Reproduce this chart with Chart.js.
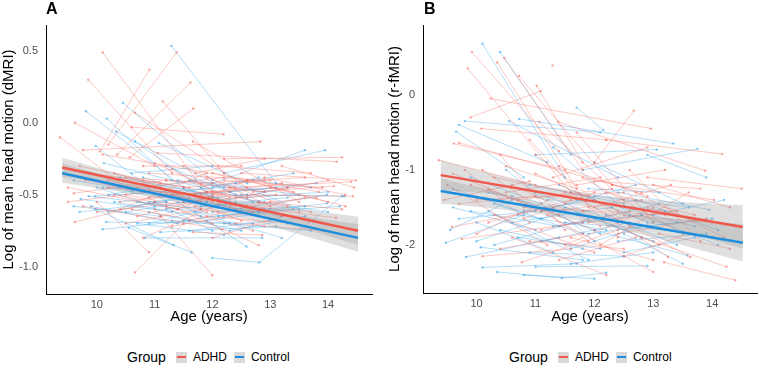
<!DOCTYPE html>
<html>
<head>
<meta charset="utf-8">
<script src="https://cdn.jsdelivr.net/npm/chart.js@4.4.1/dist/chart.umd.min.js"></script>
<style>
	body { margin: 0; background: #fff; font-family: "Liberation Sans", Arial, sans-serif; }
	#wrap { position: relative; width: 761px; height: 367px; overflow: hidden; }
	canvas { position: absolute; top: 0; }
	.letter { position: absolute; top: 1px; font-size: 16px; font-weight: bold; line-height: 16px; }
	.legend { position: absolute; top: 349px; height: 16px; display: flex; align-items: center; white-space: nowrap; color: #000; }
	.legend .title { font-size: 14px; margin-right: 10px; }
	.legend .key { width: 11px; height: 11px; background: #d9d9d9; position: relative; margin-right: 6px; }
	.legend .key span { position: absolute; left: 1px; right: 1px; top: 4.5px; height: 2px; }
	.legend .lab { font-size: 12px; margin-right: 7px; }
</style>
</head>
<body>
<div id="wrap">
	<canvas id="chartA" width="380" height="340" style="left:0"></canvas>
	<canvas id="chartB" width="381" height="340" style="left:380px"></canvas>
	<div class="letter" style="left:46px">A</div>
	<div class="letter" style="left:424px">B</div>
	<div class="legend" style="left:127px">
		<span class="title">Group</span>
		<span class="key"><span style="background:#f0584c"></span></span><span class="lab">ADHD</span>
		<span class="key"><span style="background:#1e8ddc"></span></span><span class="lab">Control</span>
	</div>
	<div class="legend" style="left:509px">
		<span class="title">Group</span>
		<span class="key"><span style="background:#f0584c"></span></span><span class="lab">ADHD</span>
		<span class="key"><span style="background:#1e8ddc"></span></span><span class="lab">Control</span>
	</div>
</div>
<script>
// each subject: age, value, age, value [, age, value]
const dmriAdhd = [
	[9.85,0.30, 11.30,-0.35], [10.10,0.49, 12.00,-0.55], [10.20,-0.15, 11.38,0.49], [10.05,-0.20, 10.91,0.37],
	[10.35,-0.22, 11.62,0.28], [9.62,0.00, 11.00,-0.30], [9.36,-0.10, 10.50,-0.45], [11.14,0.15, 12.20,-0.35],
	[10.57,-0.24, 11.67,0.10], [10.60,-0.03, 12.19,-0.08], [9.76,-0.19, 12.83,-0.13], [12.20,-0.25, 14.24,-0.24],
	[10.66,0.07, 12.60,-0.45], [10.10,-0.22, 13.84,-0.48], [11.05,-0.21, 14.15,-0.27], [11.66,-0.13, 13.50,-0.55],
	[9.60,-0.49, 11.20,-0.40], [9.62,-0.69, 11.00,-0.55], [9.76,-0.58, 12.17,-0.74], [10.00,-0.55, 10.90,-0.90],
	[10.66,-1.04, 11.50,-0.70], [11.00,-0.60, 12.00,-1.06], [11.66,-0.76, 12.86,-0.78], [12.86,-0.60, 14.14,-0.66],
	[12.00,-0.50, 14.43,-0.51], [12.50,-0.35, 14.48,-0.40], [12.30,-0.45, 14.40,-0.41], [12.80,-0.55, 14.24,-0.60],
	[10.30,-0.35, 12.40,-0.60], [10.80,-0.40, 12.60,-0.52], [11.20,-0.50, 13.30,-0.45], [10.50,-0.50, 12.10,-0.62],
	[11.50,-0.30, 13.00,-0.58], [11.80,-0.42, 13.60,-0.38], [10.20,-0.40, 11.80,-0.55], [9.50,-0.45, 11.40,-0.60],
	[11.90,-0.65, 13.40,-0.70], [11.30,-0.72, 12.70,-0.62], [10.70,-0.65, 12.30,-0.48], [12.10,-0.30, 13.70,-0.35],
	[10.90,-0.35, 12.90,-0.40], [11.60,-0.55, 13.10,-0.50], [12.40,-0.70, 13.90,-0.75], [10.40,-0.60, 11.90,-0.35],
	[11.10,-0.45, 12.50,-0.68], [9.90,-0.35, 11.60,-0.45], [12.60,-0.40, 14.00,-0.55], [11.40,-0.60, 12.80,-0.85],
	[10.80,-0.80, 12.20,-0.55], [12.00,-0.80, 13.20,-0.65], [11.70,-0.35, 12.90,-0.25], [13.00,-0.45, 14.30,-0.58],
	[10.20,-0.45, 11.70,-0.50], [10.50,-0.38, 12.00,-0.42], [10.90,-0.52, 12.40,-0.46], [11.20,-0.40, 12.90,-0.48],
	[11.40,-0.48, 12.60,-0.58], [11.80,-0.50, 13.20,-0.42], [10.70,-0.45, 12.20,-0.38], [11.00,-0.28, 12.30,-0.52],
	[12.10,-0.55, 13.50,-0.62], [12.20,-0.40, 13.90,-0.45], [9.80,-0.40, 11.30,-0.52], [10.40,-0.55, 12.00,-0.48],
	[11.50,-0.45, 13.00,-0.40], [11.90,-0.38, 13.30,-0.58], [10.60,-0.60, 12.00,-0.70], [12.30,-0.58, 13.80,-0.52],
	[11.10,-0.65, 12.60,-0.40], [10.30,-0.50, 11.90,-0.62], [12.70,-0.48, 14.10,-0.44], [11.60,-0.68, 13.00,-0.55],
	[10.00,-0.62, 11.50,-0.55], [11.30,-0.32, 12.80,-0.65], [12.50,-0.62, 13.60,-0.52], [10.80,-0.30, 12.50,-0.30],
	[11.70,-0.58, 12.90,-0.72], [9.70,-0.30, 11.10,-0.42], [12.00,-0.35, 13.40,-0.48], [10.50,-0.70, 11.80,-0.60],
	[11.20,-0.58, 12.70,-0.75], [12.90,-0.38, 14.30,-0.50], [9.50,-0.55, 10.90,-0.48], [11.90,-0.48, 13.70,-0.62],
	[10.90,-0.47, 12.10,-0.52], [12.40,-0.52, 14.00,-0.40], [13.20,-0.30, 14.45,-0.45]
];
const dmriControl = [
	[11.29,0.535, 13.10,-0.42], [9.81,0.08, 11.50,-0.45], [10.45,0.14, 12.00,-0.40], [10.17,0.03, 11.30,-0.40],
	[12.20,-0.35, 13.95,-0.19], [11.80,-0.45, 13.60,-0.19], [10.33,-0.06, 12.40,-0.50], [10.66,-0.13, 11.90,-0.48],
	[11.07,-0.14, 12.60,-0.42], [9.98,-0.16, 11.20,-0.55], [10.12,-0.28, 12.80,-0.55], [12.00,-0.94, 12.81,-0.97, 14.24,-0.51],
	[11.40,-0.55, 12.59,-0.86], [10.10,-0.74, 11.60,-0.68], [10.16,-0.69, 12.30,-0.70], [10.55,-0.73, 11.64,-0.90],
	[10.83,-0.80, 12.86,-0.80], [11.10,-0.76, 13.10,-0.72], [9.72,-0.53, 11.30,-0.62], [9.86,-0.51, 11.80,-0.60],
	[9.97,-0.51, 12.20,-0.45], [9.97,-0.60, 11.33,-0.85], [12.50,-0.50, 14.28,-0.51], [12.40,-0.60, 13.98,-0.50],
	[12.10,-0.65, 13.98,-0.56], [11.00,-0.45, 12.90,-0.60], [10.70,-0.55, 12.20,-0.65], [11.60,-0.40, 13.50,-0.50],
	[10.40,-0.45, 11.90,-0.55], [11.20,-0.30, 12.70,-0.55], [12.70,-0.40, 13.70,-0.45], [10.90,-0.62, 12.50,-0.75],
	[11.50,-0.68, 13.00,-0.60], [12.30,-0.75, 13.60,-0.65], [10.20,-0.50, 11.70,-0.40], [11.90,-0.55, 13.30,-0.70],
	[10.60,-0.35, 12.00,-0.30], [12.80,-0.55, 14.00,-0.62], [11.30,-0.50, 12.80,-0.38], [9.60,-0.40, 10.80,-0.48],
	[12.00,-0.45, 13.40,-0.35], [11.70,-0.62, 13.20,-0.80],
	[10.30,-0.55, 11.80,-0.65], [10.60,-0.48, 12.10,-0.58], [10.90,-0.55, 12.60,-0.50], [11.20,-0.60, 12.90,-0.55],
	[11.50,-0.45, 12.80,-0.62], [11.80,-0.58, 13.30,-0.52], [10.10,-0.45, 11.60,-0.52], [10.80,-0.38, 12.30,-0.55],
	[12.00,-0.62, 13.60,-0.58], [12.30,-0.48, 13.80,-0.42], [9.90,-0.58, 11.40,-0.70], [10.50,-0.62, 12.00,-0.52],
	[11.40,-0.40, 12.90,-0.48], [11.90,-0.68, 13.40,-0.60], [10.70,-0.70, 12.20,-0.78], [12.60,-0.52, 14.00,-0.48],
	[11.10,-0.50, 12.50,-0.60], [10.20,-0.62, 11.90,-0.48], [12.80,-0.62, 14.20,-0.58], [11.70,-0.50, 13.10,-0.45],
	[9.70,-0.62, 11.20,-0.55], [11.30,-0.68, 12.70,-0.70], [12.40,-0.42, 13.50,-0.60], [10.40,-0.38, 12.00,-0.50],
	[11.60,-0.75, 13.00,-0.68], [10.00,-0.45, 11.00,-0.58], [12.10,-0.55, 13.30,-0.45], [10.90,-0.70, 12.40,-0.55],
	[11.00,-0.55, 12.00,-0.75], [12.20,-0.70, 13.70,-0.75], [9.60,-0.58, 11.10,-0.65], [11.50,-0.55, 13.20,-0.65]
];
const rfmriAdhd = [
	[9.92,0.57, 11.40,-0.75], [9.85,0.35, 11.60,-1.30], [10.47,0.49, 11.80,-1.00], [10.35,0.43, 11.90,-1.50],
	[11.29,0.39], [10.72,0.25, 12.30,-1.20], [11.02,0.12, 11.80,-0.90], [9.90,-0.30, 11.09,0.05],
	[10.24,-0.05, 12.96,-0.45], [12.00,-0.90, 12.67,-0.21], [10.08,-0.45, 12.20,-0.60], [11.06,-0.36, 12.50,-1.40],
	[11.38,-0.36, 13.88,-1.01], [9.36,-0.87, 11.00,-1.20], [9.61,-0.65, 11.50,-1.00], [9.70,-0.64, 12.80,-1.30],
	[12.20,-0.60, 14.17,-0.79], [12.90,-1.10, 14.50,-1.25], [9.58,-1.76, 11.30,-1.50], [9.75,-1.92, 11.80,-1.70],
	[10.77,-2.23, 12.40,-1.80], [11.20,-1.60, 13.00,-2.36], [12.80,-1.90, 14.24,-2.29], [13.18,-2.23, 14.39,-2.47],
	[11.60,-1.30, 13.25,-2.16], [12.00,-1.50, 13.63,-2.16], [12.30,-1.20, 14.03,-1.40], [10.10,-1.00, 11.90,-1.95],
	[10.50,-1.30, 12.10,-1.10], [10.30,-1.60, 12.00,-2.10], [11.00,-0.80, 12.60,-1.75], [10.80,-1.50, 13.20,-1.60],
	[11.50,-2.00, 13.00,-1.50], [9.50,-1.20, 11.20,-2.00], [10.00,-1.40, 12.50,-1.30], [11.80,-1.10, 13.50,-1.85],
	[12.50,-1.60, 14.00,-1.70], [10.60,-1.90, 12.20,-2.40], [11.30,-1.10, 12.90,-0.70], [10.90,-0.60, 12.40,-1.90],
	[9.80,-1.00, 10.90,-1.70], [12.10,-2.00, 13.60,-1.30], [11.70,-0.50, 13.00,-1.70], [10.20,-1.70, 11.60,-1.40],
	[13.00,-1.20, 14.30,-1.50], [11.40,-2.20, 12.70,-1.90], [10.40,-0.80, 11.50,-1.80], [12.60,-1.00, 13.80,-1.95],
	[9.90,-1.20, 11.40,-1.60], [10.30,-1.10, 11.90,-1.35], [10.70,-1.40, 12.30,-1.25], [11.10,-1.80, 12.60,-1.55],
	[11.50,-1.45, 13.10,-2.00], [11.90,-1.70, 13.40,-1.55], [12.20,-1.30, 13.70,-1.60], [10.00,-1.85, 11.50,-1.30],
	[10.60,-1.20, 12.10,-1.75], [11.30,-1.55, 12.80,-1.40], [12.40,-1.85, 13.90,-1.65], [9.70,-1.45, 11.00,-1.35],
	[10.90,-1.95, 12.50,-2.05], [11.70,-1.20, 13.20,-1.00], [12.70,-1.30, 14.20,-1.90], [10.40,-2.05, 11.80,-1.85],
	[11.00,-1.05, 12.40,-1.55], [12.00,-1.15, 13.80,-1.25], [9.60,-1.05, 11.10,-1.55], [10.80,-1.65, 12.00,-1.30],
	[11.60,-1.90, 13.00,-2.20], [12.90,-1.50, 14.40,-1.75], [10.20,-1.25, 12.00,-1.80], [11.40,-0.95, 12.90,-1.35],
	[12.50,-2.15, 13.60,-1.85], [10.10,-2.15, 11.60,-2.05], [11.80,-1.55, 13.30,-1.20], [10.50,-0.95, 11.70,-1.25],
	[13.10,-1.85, 14.30,-2.05], [9.45,-1.40, 10.90,-1.15]
];
const rfmriControl = [
	[10.10,0.68, 11.50,-1.10], [10.40,0.57, 11.60,-0.80], [11.70,-0.17, 12.15,-0.47], [9.80,-0.35, 12.10,-0.50],
	[9.70,-0.40, 11.20,-0.90], [9.65,-0.49, 10.80,-1.10], [10.55,-0.35, 12.40,-1.10], [10.72,-0.32, 13.34,-0.65],
	[11.80,-1.00, 13.75,-0.72], [11.00,-0.80, 13.06,-0.73], [9.48,-1.97, 10.80,-1.60], [9.82,-2.16, 11.40,-1.90],
	[10.35,-2.36, 11.45,-2.44, 12.20,-2.37], [11.00,-2.29, 12.90,-2.28], [10.07,-2.03, 11.80,-2.20], [12.00,-1.80, 13.58,-2.14],
	[12.40,-1.30, 13.95,-1.53], [10.20,-1.30, 11.70,-1.60], [10.60,-1.70, 12.30,-1.50], [11.20,-1.40, 12.80,-1.90],
	[9.60,-1.50, 11.00,-1.80], [10.90,-1.20, 12.50,-1.45], [11.50,-1.70, 13.20,-1.80], [12.20,-1.60, 13.40,-2.00],
	[10.00,-1.70, 11.30,-2.10], [11.60,-2.05, 13.00,-1.70], [10.50,-1.00, 12.00,-1.95], [12.70,-1.40, 14.10,-1.80],
	[11.90,-1.25, 13.10,-1.30], [9.90,-1.10, 11.10,-1.45], [10.70,-1.90, 12.10,-2.05], [12.50,-2.10, 13.70,-1.90],
	[11.30,-0.70, 12.60,-1.60], [13.00,-1.60, 14.20,-1.40], [10.30,-2.00, 11.90,-1.65], [11.10,-1.55, 12.70,-1.20],
	[12.00,-0.90, 13.50,-1.45], [9.55,-1.80, 10.60,-1.40], [10.80,-2.40, 12.00,-2.45], [12.90,-0.80, 13.90,-1.10],
	[9.90,-1.55, 11.40,-1.75], [10.30,-1.45, 11.80,-1.85], [10.70,-1.60, 12.20,-1.80], [11.10,-1.95, 12.60,-1.70],
	[11.50,-1.50, 13.00,-1.95], [11.90,-1.85, 13.40,-1.70], [12.20,-1.45, 13.70,-1.75], [10.00,-1.95, 11.50,-1.55],
	[10.60,-1.35, 12.10,-1.85], [11.30,-1.75, 12.80,-1.60], [12.40,-1.95, 13.90,-1.85], [9.70,-1.65, 11.00,-1.55],
	[10.90,-2.10, 12.50,-2.15], [11.70,-1.40, 13.20,-1.55], [12.80,-1.60, 14.10,-2.00], [10.40,-1.80, 11.80,-2.05],
	[11.00,-1.30, 12.40,-1.70], [12.00,-1.35, 13.60,-1.50], [9.60,-1.25, 11.10,-1.65], [10.80,-1.55, 12.00,-1.40],
	[11.60,-2.25, 13.00,-2.10], [12.90,-1.75, 14.00,-1.65], [10.20,-1.55, 11.90,-2.20], [11.40,-1.20, 12.90,-1.70],
	[12.50,-1.85, 13.50,-2.25], [10.10,-2.30, 11.70,-2.25], [11.80,-1.70, 13.10,-1.45]
];

// fitted lines and confidence bands
const fitXA = [9.4, 14.52];
const fitAdhdA = [-0.31, -0.75];
const fitControlA = [-0.35, -0.80];
const bandXA = [9.4, 10, 11, 12, 13, 14, 14.52];
const bandAdhdHiA = [-0.243, -0.312, -0.418, -0.507, -0.57, -0.626, -0.653];
const bandAdhdLoA = [-0.377, -0.412, -0.478, -0.561, -0.67, -0.786, -0.847];
const bandControlHiA = [-0.283, -0.353, -0.461, -0.552, -0.617, -0.674, -0.703];
const bandControlLoA = [-0.417, -0.453, -0.521, -0.606, -0.717, -0.834, -0.897];

const fitXB = [9.39, 14.52];
const fitAdhdB = [-1.07, -1.76];
const fitControlB = [-1.28, -1.97];
const bandXB = [9.39, 10, 11, 12, 13, 14, 14.52];
const bandAdhdHiB = [-0.87, -1.002, -1.197, -1.331, -1.406, -1.45, -1.47];
const bandAdhdLoB = [-1.27, -1.302, -1.377, -1.511, -1.706, -1.93, -2.05];
const bandControlHiB = [-1.11, -1.232, -1.417, -1.551, -1.636, -1.69, -1.72];
const bandControlLoB = [-1.45, -1.492, -1.577, -1.711, -1.896, -2.11, -2.22];

const ageTicks = [10, 11, 12, 13, 14];
const dmriTicks = [-1.0, -0.5, 0.0, 0.5];
const rfmriTicks = [-2, -1, 0];

const RED = '#f0584c';
const BLUE = '#1e8ddc';
const FONT = '"Liberation Sans", Arial, sans-serif';

function toPoints(subjects)
{
	let pts = [];
	for(const s of subjects)
	{
		for(let i = 0; i < s.length; i += 2)
			pts.push({x: s[i], y: s[i + 1]});
		pts.push({x: s[0], y: null});
	}
	return pts;
}

function zip(xs, ys)
{
	return xs.map((x, i) => ({x: x, y: ys[i]}));
}

function makePanel(id, p)
{
	const thin = (data, color, dot) => ({
		data: data,
		borderColor: color,
		backgroundColor: dot,
		borderWidth: 1,
		pointRadius: 1.2,
		pointBorderWidth: 0,
		spanGaps: false,
		fill: false,
	});
	const band = (data, fill) => ({
		data: data,
		borderWidth: 0,
		pointRadius: 0,
		backgroundColor: 'rgba(150,150,150,0.3)',
		fill: fill,
	});
	const fit = (data, color) => ({
		data: data,
		borderColor: color,
		borderWidth: 2.5,
		pointRadius: 0,
		fill: false,
	});

	const datasets = [
		fit(zip(p.fitX, p.fitAdhd), RED),
		fit(zip(p.fitX, p.fitControl), BLUE),
		band(zip(p.bandX, p.adhdHi), false),
		band(zip(p.bandX, p.adhdLo), '-1'),
		band(zip(p.bandX, p.controlHi), false),
		band(zip(p.bandX, p.controlLo), '-1'),
		thin(toPoints(p.adhd), 'rgba(248,100,90,0.35)', 'rgba(248,100,90,0.55)'),
		thin(toPoints(p.control), 'rgba(40,160,235,0.35)', 'rgba(40,160,235,0.55)'),
	];

	new Chart(document.getElementById(id), {
		type: 'line',
		data: {datasets: datasets},
		options: {
			responsive: false,
			animation: false,
			devicePixelRatio: 1,
			layout: {padding: {top: 25, right: p.padRight, left: 0, bottom: 0}},
			elements: {line: {tension: 0}},
			plugins: {legend: {display: false}, tooltip: {enabled: false}},
			scales: {
				x: {
					type: 'linear',
					min: p.xMin,
					max: p.xMax,
					grid: {display: false, drawTicks: false},
					border: {display: true, color: '#000', width: 1},
					afterBuildTicks: s => { s.ticks = ageTicks.map(v => ({value: v})); },
					afterFit: s => { s.height = p.xHeight; },
					ticks: {
						autoSkip: false,
						maxRotation: 0,
						padding: 4,
						color: '#4d4d4d',
						font: {family: FONT, size: 11},
					},
					title: {
						display: true,
						text: 'Age (years)',
						color: '#000',
						padding: {top: 4, bottom: 14},
						font: {family: FONT, size: 15},
					},
				},
				y: {
					type: 'linear',
					min: p.yMin,
					max: p.yMax,
					grid: {display: false, drawTicks: false},
					border: {display: true, color: '#000', width: 1},
					afterBuildTicks: s => { s.ticks = p.yTicks.map(v => ({value: v})); },
					afterFit: s => { s.width = p.yWidth; },
					ticks: {
						padding: 8,
						color: '#4d4d4d',
						font: {family: FONT, size: 11},
						callback: p.yLabel,
					},
					title: {
						display: true,
						text: p.yTitle,
						color: '#000',
						padding: {top: p.titlePad, bottom: 0},
						font: {family: FONT, size: 15},
					},
				},
			},
		},
	});
}

makePanel('chartA', {
	adhd: dmriAdhd, control: dmriControl,
	fitX: fitXA, fitAdhd: fitAdhdA, fitControl: fitControlA,
	bandX: bandXA, adhdHi: bandAdhdHiA, adhdLo: bandAdhdLoA, controlHi: bandControlHiA, controlLo: bandControlLoA,
	xMin: 9.12, xMax: 14.76, yMin: -1.19, yMax: 0.68,
	yTicks: dmriTicks, yLabel: v => v.toFixed(1),
	yTitle: 'Log of mean head motion (dMRI)',
	yWidth: 46, xHeight: 46, padRight: 8, titlePad: 0,
});

makePanel('chartB', {
	adhd: rfmriAdhd, control: rfmriControl,
	fitX: fitXB, fitAdhd: fitAdhdB, fitControl: fitControlB,
	bandX: bandXB, adhdHi: bandAdhdHiB, adhdLo: bandAdhdLoB, controlHi: bandControlHiB, controlLo: bandControlLoB,
	xMin: 9.09, xMax: 14.76, yMin: -2.64, yMax: 0.93,
	yTicks: rfmriTicks, yLabel: v => String(v),
	yTitle: 'Log of mean head motion (r-fMRI)',
	yWidth: 43, xHeight: 47, padRight: 1, titlePad: 5.5,
});
</script>
</body>
</html>
